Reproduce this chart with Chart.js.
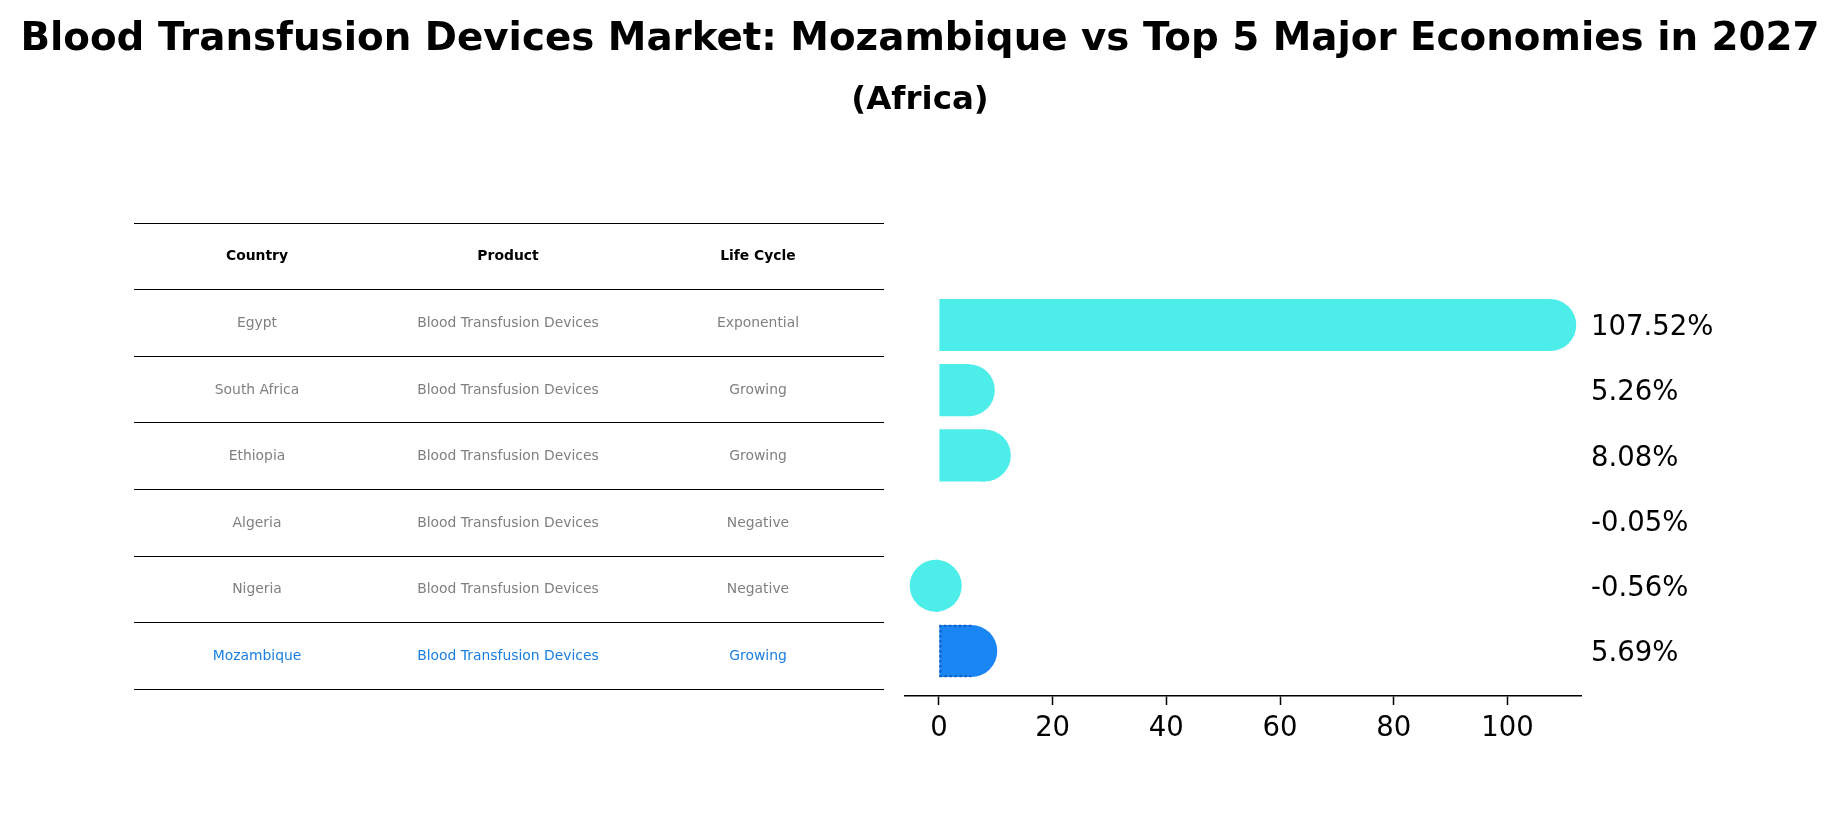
<!DOCTYPE html>
<html>
<head>
<meta charset="utf-8">
<script src="https://cdn.jsdelivr.net/npm/chart.js@4/dist/chart.umd.min.js"></script>
<style>
  html, body { margin: 0; padding: 0; background: #fff; }
  #wrap { position: relative; width: 1840px; height: 823px; overflow: hidden; font-family: "DejaVu Sans", sans-serif; }
  #chartBox { position: absolute; left: 0; top: 0; width: 1840px; height: 823px; }
  .title { position: absolute; left: 0; width: 1840px; text-align: center; font-weight: bold; color: #000; white-space: nowrap; }
  .cell { position: absolute; transform: translate(-50%, -50%); white-space: nowrap; font-size: 13.9px; }
  .hline { position: absolute; height: 1px; background: #000; }
</style>
</head>
<body>
<div id="wrap">
  <div id="chartBox"><canvas id="c"></canvas></div>
  <div class="title" id="t1" style="top:12px;font-size:38.8px;line-height:50px;">Blood Transfusion Devices Market: Mozambique vs Top 5 Major Economies in 2027</div>
  <div class="title" id="t2" style="top:77px;font-size:32.5px;line-height:42px;">(Africa)</div>
  <div id="table"></div>
</div>
<script>
// ---- data ----
const tableHeaders = ['Country', 'Product', 'Life Cycle'];
const countries = ['Egypt', 'South Africa', 'Ethiopia', 'Algeria', 'Nigeria', 'Mozambique'];
const products = ['Blood Transfusion Devices', 'Blood Transfusion Devices', 'Blood Transfusion Devices',
                  'Blood Transfusion Devices', 'Blood Transfusion Devices', 'Blood Transfusion Devices'];
const lifeCycles = ['Exponential', 'Growing', 'Growing', 'Negative', 'Negative', 'Growing'];
const growth = [107.52, 5.26, 8.08, -0.05, -0.56, 5.69];
const xTickValues = [0, 20, 40, 60, 80, 100];
const highlight = 'Mozambique';

// ---- styles ----
const baseColor = '#4deeea';
const hiColor = '#1a86f4';
const hiEdge = '#135fc8';
const markColors = countries.map((c, i) =>
  c === highlight ? hiColor : (Math.abs(growth[i]) < 0.1 ? 'rgba(0,0,0,0)' : baseColor));

// ---- table (HTML text) ----
(function buildTable() {
  const tbl = document.getElementById('table');
  const left = 134, right = 884, top = 223, rowH = 66.6;
  const colX = [257, 508, 758];
  const rows = [tableHeaders].concat(countries.map((c, i) => [c, products[i], lifeCycles[i]]));
  for (let r = 0; r <= rows.length; r++) {
    const ln = document.createElement('div');
    ln.className = 'hline';
    ln.style.left = left + 'px';
    ln.style.width = (right - left) + 'px';
    ln.style.top = Math.round(top + r * rowH - 0.5) + 'px';
    tbl.appendChild(ln);
  }
  rows.forEach((row, r) => {
    row.forEach((txt, k) => {
      const d = document.createElement('div');
      d.className = 'cell';
      d.textContent = txt;
      d.style.left = colX[k] + 'px';
      d.style.top = (top + (r + 0.5) * rowH - 1) + 'px';
      if (r === 0) { d.style.fontWeight = 'bold'; d.style.color = '#000'; }
      else if (countries[r - 1] === highlight) { d.style.color = '#1a7fe0'; }
      else { d.style.color = '#808080'; }
      tbl.appendChild(d);
    });
  });
})();

// ---- chart ----
const valueLabels = {
  id: 'valueLabels',
  afterDatasetsDraw(chart) {
    const ctx = chart.ctx, ys = chart.scales.y, area = chart.chartArea;
    ctx.save();
    ctx.font = '27.5px "DejaVu Sans"';
    ctx.fillStyle = '#000';
    ctx.textAlign = 'left';
    ctx.textBaseline = 'middle';
    growth.forEach((v, i) => {
      ctx.fillText(v.toFixed(2) + '%', area.right + 10, ys.getPixelForValue(i) + 3);
    });
    ctx.restore();
  }
};

const dottedEdge = {
  id: 'dottedEdge',
  afterDatasetsDraw(chart) {
    const meta = chart.getDatasetMeta(1);
    const i = countries.indexOf(highlight);
    const el = meta.data[i];
    if (!el) return;
    const p = el.getProps(['x', 'y', 'base', 'height'], true);
    const top = p.y - p.height / 2, bot = p.y + p.height / 2;
    const ctx = chart.ctx;
    ctx.save();
    ctx.strokeStyle = hiEdge;
    ctx.lineWidth = 2.2;
    ctx.setLineDash([2.5, 2.5]);
    ctx.beginPath();
    ctx.moveTo(p.x, top + 1);
    ctx.lineTo(p.base + 1, top + 1);
    ctx.lineTo(p.base + 1, bot - 1);
    ctx.lineTo(p.x, bot - 1);
    ctx.stroke();
    ctx.restore();
  }
};

new Chart(document.getElementById('c'), {
  type: 'bar',
  data: {
    datasets: [
      {
        type: 'scatter',
        order: 0,
        data: growth.map((v, i) => ({ x: v, y: i })),
        pointRadius: 26,
        pointHoverRadius: 26,
        pointBorderWidth: 0,
        pointBackgroundColor: markColors,
        pointBorderColor: markColors,
        showLine: false
      },
      {
        type: 'bar',
        order: 1,
        data: growth.map((v, i) => ({ x: v, y: i })),
        backgroundColor: markColors,
        borderWidth: 0,
        barPercentage: 0.8,
        categoryPercentage: 1.0
      }
    ]
  },
  options: {
    indexAxis: 'y',
    responsive: true,
    maintainAspectRatio: false,
    devicePixelRatio: 1,
    animation: false,
    events: [],
    layout: { autoPadding: false, padding: { left: 905, right: 259, top: 280, bottom: 0 } },
    plugins: { legend: { display: false }, tooltip: { enabled: false }, title: { display: false } },
    scales: {
      x: {
        type: 'linear',
        min: -5.964,
        max: 112.93,
        offset: false,
        afterBuildTicks: s => { s.ticks = xTickValues.map(v => ({ value: v })); },
        afterFit: s => { s.height = 823 - 696; },
        grid: { display: true, offset: false, drawOnChartArea: false, drawTicks: true, tickLength: 9, tickColor: '#000', tickWidth: 1.5 },
        border: { display: true, color: '#000', width: 1.5 },
        ticks: { color: '#000', font: { family: 'DejaVu Sans', size: 27.5 }, padding: 7, maxRotation: 0 }
      },
      y: {
        type: 'linear',
        reverse: true,
        offset: false,
        min: -0.69,
        max: 5.69,
        display: false,
        grid: { offset: false },
        afterBuildTicks: s => { s.ticks = countries.map((c, i) => ({ value: i })); }
      }
    }
  },
  plugins: [valueLabels, dottedEdge]
});
</script>
</body>
</html>
